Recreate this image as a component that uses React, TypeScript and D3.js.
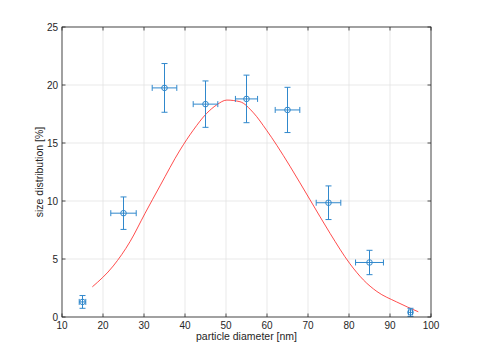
import React from "react";
import * as d3 from "d3";

const diameters = [15, 25, 35, 45, 55, 65, 75, 85, 95];
const sizeDist = [1.3, 8.95, 19.75, 18.35, 18.8, 17.85, 9.85, 4.7, 0.4];
const yErr = [0.55, 1.4, 2.1, 2.0, 2.05, 1.95, 1.45, 1.05, 0.35];
const xErr = [0.8, 3.1, 3.0, 3.0, 2.7, 3.0, 3.0, 3.4, 0.5];

const fitX = [17.4, 22.5, 26.6, 30.2, 33.9, 38.8, 42, 45.3, 47.7, 50.2, 53.4, 56.7, 59.9, 62.4, 65.6, 70.5, 75.4, 80.2, 83.5, 86.8, 91.6, 96.9];
const fitY = [2.6, 4.4, 6.5, 8.9, 11.3, 14.4, 16.1, 17.56, 18.28, 18.7, 18.56, 17.6, 16.1, 14.8, 13.0, 10.1, 7.2, 4.6, 3.2, 2.2, 1.3, 0.45];

const xTicks = [10, 20, 30, 40, 50, 60, 70, 80, 90, 100];
const yTicks = [0, 5, 10, 15, 20, 25];

export default function App() {
  const W = 477, H = 357;
  const L = 62, R = 431, T = 27, B = 317;
  const x = d3.scaleLinear().domain([10, 100]).range([L, R]);
  const y = d3.scaleLinear().domain([0, 25]).range([B, T]);
  const line = d3
    .line<number>()
    .x((_, i) => x(fitX[i]))
    .y((_, i) => y(fitY[i]))
    .curve(d3.curveMonotoneX);
  const blue = "#3088cc";
  const axisC = "#262626";
  const font = "Helvetica, 'Liberation Sans', Arial, sans-serif";
  const cap = 3;
  return (
    <svg width={W} height={H} style={{ position: "absolute", left: 0, top: 0, background: "#fff" }} fontFamily={font}>
      {xTicks.map((t) => (
        <line key={"gx" + t} x1={x(t)} x2={x(t)} y1={T} y2={B} stroke="#e3e3e3" strokeWidth={0.8} />
      ))}
      {yTicks.map((t) => (
        <line key={"gy" + t} x1={L} x2={R} y1={y(t)} y2={y(t)} stroke="#e3e3e3" strokeWidth={0.8} />
      ))}
      <path d={line(fitX) || ""} fill="none" stroke="#ff2020" strokeWidth={0.8} />
      {diameters.map((d, i) => {
        const cx = x(d), cy = y(sizeDist[i]);
        const y0 = y(sizeDist[i] - yErr[i]), y1 = y(sizeDist[i] + yErr[i]);
        const x0 = x(d - xErr[i]), x1 = x(d + xErr[i]);
        return (
          <g key={"p" + i} stroke={blue} strokeWidth={1} fill="none">
            <line x1={cx} x2={cx} y1={y0} y2={y1} />
            <line x1={cx - cap} x2={cx + cap} y1={y0} y2={y0} />
            <line x1={cx - cap} x2={cx + cap} y1={y1} y2={y1} />
            <line x1={x0} x2={x1} y1={cy} y2={cy} />
            <line x1={x0} x2={x0} y1={cy - cap} y2={cy + cap} />
            <line x1={x1} x2={x1} y1={cy - cap} y2={cy + cap} />
            <circle cx={cx} cy={cy} r={2.8} />
          </g>
        );
      })}
      <rect x={L} y={T} width={R - L} height={B - T} fill="none" stroke={axisC} strokeWidth={0.8} />
      {xTicks.map((t) => (
        <g key={"tx" + t}>
          <line x1={x(t)} x2={x(t)} y1={B} y2={B - 3.5} stroke={axisC} strokeWidth={0.8} />
          <line x1={x(t)} x2={x(t)} y1={T} y2={T + 3.5} stroke={axisC} strokeWidth={0.8} />
          <text x={x(t)} y={B + 11.5} textAnchor="middle" fontSize={10} fill={axisC}>{t}</text>
        </g>
      ))}
      {yTicks.map((t) => (
        <g key={"ty" + t}>
          <line x1={L} x2={L + 3.5} y1={y(t)} y2={y(t)} stroke={axisC} strokeWidth={0.8} />
          <line x1={R} x2={R - 3.5} y1={y(t)} y2={y(t)} stroke={axisC} strokeWidth={0.8} />
          <text x={L - 4} y={y(t) + 3.5} textAnchor="end" fontSize={10} fill={axisC}>{t}</text>
        </g>
      ))}
      <text x={(L + R) / 2} y={B + 23} textAnchor="middle" fontSize={10.5} fill={axisC}>particle diameter [nm]</text>
      <text transform={`translate(${43},${(T + B) / 2}) rotate(-90)`} textAnchor="middle" fontSize={10.5} fill={axisC}>size distribution [%]</text>
    </svg>
  );
}
